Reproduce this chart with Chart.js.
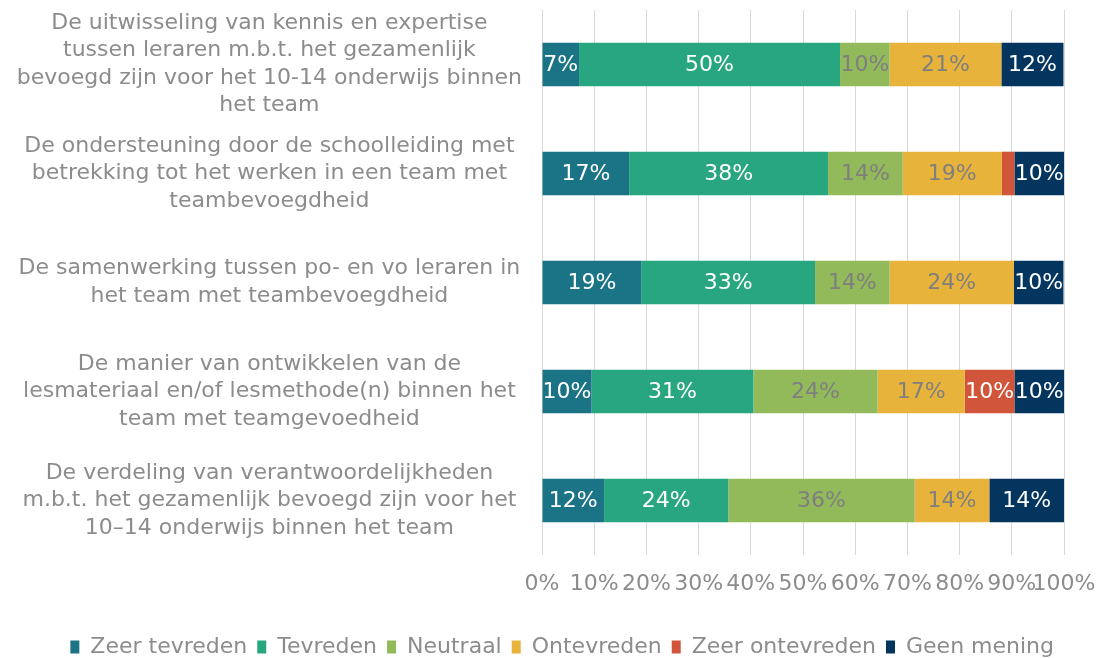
<!DOCTYPE html>
<html>
<head>
<meta charset="utf-8">
<script src="https://cdn.jsdelivr.net/npm/chart.js@4/dist/chart.umd.min.js"></script>
<style>
  html, body { margin: 0; padding: 0; background: #ffffff; }
  #wrap { width: 1102px; height: 658px; position: relative; }
</style>
</head>
<body>
<div id="wrap"><canvas id="chart"></canvas></div>
<script>
// categories (each label split in lines as in the picture)
const categories = [
    ['De uitwisseling van kennis en expertise', 'tussen leraren m.b.t. het gezamenlijk', 'bevoegd zijn voor het 10-14 onderwijs binnen', 'het team'],
    ['De ondersteuning door de schoolleiding met', 'betrekking tot het werken in een team met', 'teambevoegdheid'],
    ['De samenwerking tussen po- en vo leraren in', 'het team met teambevoegdheid'],
    ['De manier van ontwikkelen van de', 'lesmateriaal en/of lesmethode(n) binnen het', 'team met teamgevoedheid'],
    ['De verdeling van verantwoordelijkheden', 'm.b.t. het gezamenlijk bevoegd zijn voor het', '10\u201314 onderwijs binnen het team']
];

// shares in percent
const zeerTevreden   = [7.1, 16.7, 19.0, 9.5, 11.9];
const tevreden       = [50.0, 38.1, 33.3, 31.0, 23.8];
const neutraal       = [9.5, 14.3, 14.3, 23.8, 35.7];
const ontevreden     = [21.4, 19.0, 23.8, 16.7, 14.3];
const zeerOntevreden = [0, 2.4, 0, 9.5, 0];
const geenMening     = [11.9, 9.5, 9.5, 9.5, 14.3];

const seriesNames = ['Zeer tevreden', 'Tevreden', 'Neutraal', 'Ontevreden', 'Zeer ontevreden', 'Geen mening'];
const xTicks = [0, 10, 20, 30, 40, 50, 60, 70, 80, 90, 100];

const colors = ['#1b7386', '#28a67f', '#92b95a', '#e8b33b', '#d1553a', '#04355f'];
const labelColors = ['#ffffff', '#ffffff', '#7f7f7f', '#7f7f7f', '#ffffff', '#ffffff'];
const grey = '#8c8c8c';
const fontFamily = '"DejaVu Sans", Verdana, sans-serif';

const allSeries = [zeerTevreden, tevreden, neutraal, ontevreden, zeerOntevreden, geenMening];

// draws the percentage in the middle of each segment (tiny ones stay empty)
const segmentLabels = {
    id: 'segmentLabels',
    afterDatasetsDraw(chart) {
        const ctx = chart.ctx;
        ctx.save();
        ctx.font = '22px ' + fontFamily;
        ctx.textAlign = 'center';
        ctx.textBaseline = 'middle';
        chart.data.datasets.forEach((ds, i) => {
            const meta = chart.getDatasetMeta(i);
            meta.data.forEach((bar, j) => {
                const v = ds.data[j];
                if (!v || v < 4) return;
                const p = bar.getCenterPoint();
                ctx.fillStyle = labelColors[i];
                ctx.fillText(Math.round(v) + '%', p.x, p.y + 1);
            });
        });
        ctx.restore();
    }
};

const ctx = document.getElementById('chart').getContext('2d');
new Chart(ctx, {
    type: 'bar',
    data: {
        labels: categories,
        datasets: allSeries.map((data, i) => ({
            label: seriesNames[i],
            data: data,
            backgroundColor: colors[i],
            borderWidth: 0,
            barPercentage: 0.8,
            categoryPercentage: 0.5
        }))
    },
    options: {
        indexAxis: 'y',
        responsive: true,
        maintainAspectRatio: false,
        animation: false,
        layout: { padding: { top: 10, left: 8, right: 38, bottom: 0 } },
        scales: {
            x: {
                stacked: true,
                min: 0,
                max: 100,
                afterBuildTicks: axis => { axis.ticks = xTicks.map(v => ({ value: v })); },
                afterFit: scale => { scale.height = 71; scale.paddingLeft = 0; scale.paddingRight = 0; },
                grid: { color: '#d9d9d9', lineWidth: 1, drawTicks: false },
                border: { display: false },
                ticks: {
                    color: grey,
                    padding: 16,
                    maxRotation: 0,
                    autoSkip: false,
                    font: { family: fontFamily, size: 22 },
                    callback: v => v + '%'
                }
            },
            y: {
                stacked: true,
                afterFit: scale => { scale.width = 534; scale.paddingTop = 0; scale.paddingBottom = 0; },
                grid: { display: false, drawTicks: false },
                border: { display: false },
                ticks: {
                    color: grey,
                    padding: 20,
                    autoSkip: false,
                    crossAlign: 'center',
                    font: { family: fontFamily, size: 22, lineHeight: 1.25 }
                }
            }
        },
        plugins: {
            legend: {
                position: 'bottom',
                align: 'end',
                maxHeight: 32,
                labels: {
                    color: grey,
                    boxWidth: 9,
                    boxHeight: 13,
                    padding: 10,
                    font: { family: fontFamily, size: 22 }
                }
            },
            tooltip: { enabled: false }
        }
    },
    plugins: [segmentLabels]
});
</script>
</body>
</html>
